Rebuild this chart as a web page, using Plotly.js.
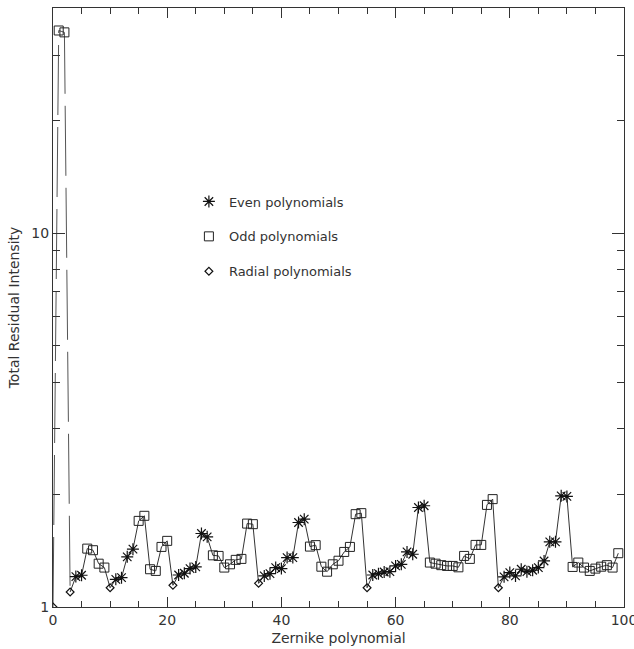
<!DOCTYPE html>
<html>
<head>
<meta charset="utf-8">
<script src="https://cdn.plot.ly/plotly-3.0.1.min.js"></script>
<style>html,body{margin:0;padding:0;background:#fff}#chart{width:634px;height:649px}</style>
</head>
<body>
<div id="chart"></div>
<script>
// Zernike polynomial index (0-based, Noll j-1) and total residual intensity
var evenX = [4, 5, 11, 12, 13, 14, 22, 23, 24, 25, 26, 27,
  37, 38, 39, 40, 41, 42, 43, 44,
  56, 57, 58, 59, 60, 61, 62, 63, 64, 65,
  79, 80, 81, 82, 83, 84, 85, 86, 87, 88, 89, 90];
var evenY = [1.206, 1.216, 1.186, 1.198, 1.362, 1.428, 1.218, 1.231, 1.267, 1.280, 1.573, 1.541,
  1.211, 1.228, 1.275, 1.267, 1.356, 1.356, 1.683, 1.718,
  1.218, 1.228, 1.241, 1.243, 1.288, 1.301, 1.404, 1.384, 1.846, 1.866,
  1.204, 1.236, 1.211, 1.262, 1.243, 1.254, 1.275, 1.328, 1.494, 1.494, 1.984, 1.977];

var oddX = [1, 2, 6, 7, 8, 9, 15, 16, 17, 18, 19, 20,
  28, 29, 30, 31, 32, 33, 34, 35,
  45, 46, 47, 48, 49, 50, 51, 52, 53, 54,
  66, 67, 68, 69, 70, 71, 72, 73, 74, 75, 76, 77,
  91, 92, 93, 94, 95, 96, 97, 98, 99];
var oddY = [34.9, 34.5, 1.433, 1.419, 1.306, 1.275, 1.700, 1.754, 1.262, 1.249, 1.448, 1.503,
  1.375, 1.370, 1.275, 1.301, 1.337, 1.345, 1.672, 1.666,
  1.451, 1.464, 1.282, 1.243, 1.301, 1.330, 1.404, 1.448, 1.772, 1.783,
  1.315, 1.306, 1.294, 1.288, 1.288, 1.277, 1.370, 1.345, 1.466, 1.466, 1.876, 1.944,
  1.280, 1.315, 1.275, 1.249, 1.267, 1.282, 1.294, 1.275, 1.393];

var radialX = [0, 3, 10, 21, 36, 55, 78];
var radialY = [1.000, 1.097, 1.126, 1.143, 1.157, 1.126, 1.126];

var xTickVals = [0, 20, 40, 60, 80, 100];
var yTickVals = [1, 10];
var yTickText = ['1', '10'];
var yMinorVals = [2, 3, 4, 5, 6, 7, 8, 9, 20, 30, 40];

// build the connecting line from all series, ordered by index
var all = [];
function addPts(xs, ys) { for (var i = 0; i < xs.length; i++) all.push([xs[i], ys[i]]); }
addPts(evenX, evenY); addPts(oddX, oddY); addPts(radialX, radialY);
all.sort(function (a, b) { return a[0] - b[0]; });
var headX = [], headY = [], tailX = [], tailY = [];
all.forEach(function (p) {
  if (p[0] <= 3) { headX.push(p[0]); headY.push(p[1]); }
  if (p[0] >= 3) { tailX.push(p[0]); tailY.push(p[1]); }
});

var fontFam = 'DejaVu Sans, Liberation Sans, sans-serif';
var ink = '#333';

var traces = [
  {x: headX, y: headY, type: 'scatter', mode: 'lines', showlegend: false,
   line: {color: '#555', width: 1, dash: '70px,12px'}, hoverinfo: 'skip'},
  {x: tailX, y: tailY, type: 'scatter', mode: 'lines', showlegend: false,
   line: {color: '#333', width: 1}, hoverinfo: 'skip'},
  {x: evenX, y: evenY, type: 'scatter', mode: 'markers', name: 'Even polynomials', legendgroup: 'a',
   marker: {symbol: 'asterisk-open', size: 10, color: '#111', line: {color: '#111', width: 1.2}}},
  {x: oddX, y: oddY, type: 'scatter', mode: 'markers', name: 'Odd polynomials', legendgroup: 'b',
   marker: {symbol: 'square-open', size: 9, color: '#222', line: {color: '#222', width: 1}}},
  {x: radialX, y: radialY, type: 'scatter', mode: 'markers', name: 'Radial polynomials', legendgroup: 'c',
   marker: {symbol: 'diamond-open', size: 6, color: '#111', line: {color: '#111', width: 1.2}}}
];

var layout = {
  width: 634, height: 649,
  margin: {l: 53, r: 10, t: 8, b: 42, pad: 0},
  paper_bgcolor: '#fff', plot_bgcolor: '#fff',
  font: {family: fontFam, size: 13, color: ink},
  showlegend: true,
  legend: {x: 0.238, y: 0.702, xanchor: 'left', yanchor: 'top', bgcolor: 'rgba(0,0,0,0)',
           traceorder: 'grouped', tracegroupgap: 15, font: {family: fontFam, size: 13, color: ink}},
  xaxis: {
    range: [0, 100], tickmode: 'array', tickvals: xTickVals,
    ticks: 'inside', ticklen: 10, tickwidth: 1, tickcolor: ink,
    showline: true, linecolor: ink, linewidth: 1, mirror: 'ticks',
    showgrid: false, zeroline: false, automargin: false, ticklabeloverflow: 'allow',
    tickfont: {family: fontFam, size: 14, color: ink},
    minor: {dtick: 5, tick0: 0, ticks: 'inside', ticklen: 6, tickcolor: ink, showgrid: false},
    title: {text: 'Zernike polynomial', font: {family: fontFam, size: 14, color: ink}, standoff: 6}
  },
  yaxis: {
    type: 'log', range: [0, 1.603], tickmode: 'array', tickvals: yTickVals, ticktext: yTickText,
    ticks: 'inside', ticklen: 12, tickwidth: 1, tickcolor: ink,
    showline: true, linecolor: ink, linewidth: 1, mirror: 'ticks',
    showgrid: false, zeroline: false, automargin: false,
    tickfont: {family: fontFam, size: 14, color: ink},
    minor: {tickvals: yMinorVals, ticks: 'inside', ticklen: 7, tickcolor: ink, showgrid: false},
    title: {text: 'Total Residual Intensity', font: {family: fontFam, size: 14, color: ink}, standoff: 8}
  }
};

Plotly.newPlot('chart', traces, layout, {displayModeBar: false, staticPlot: true});
</script>
</body>
</html>
